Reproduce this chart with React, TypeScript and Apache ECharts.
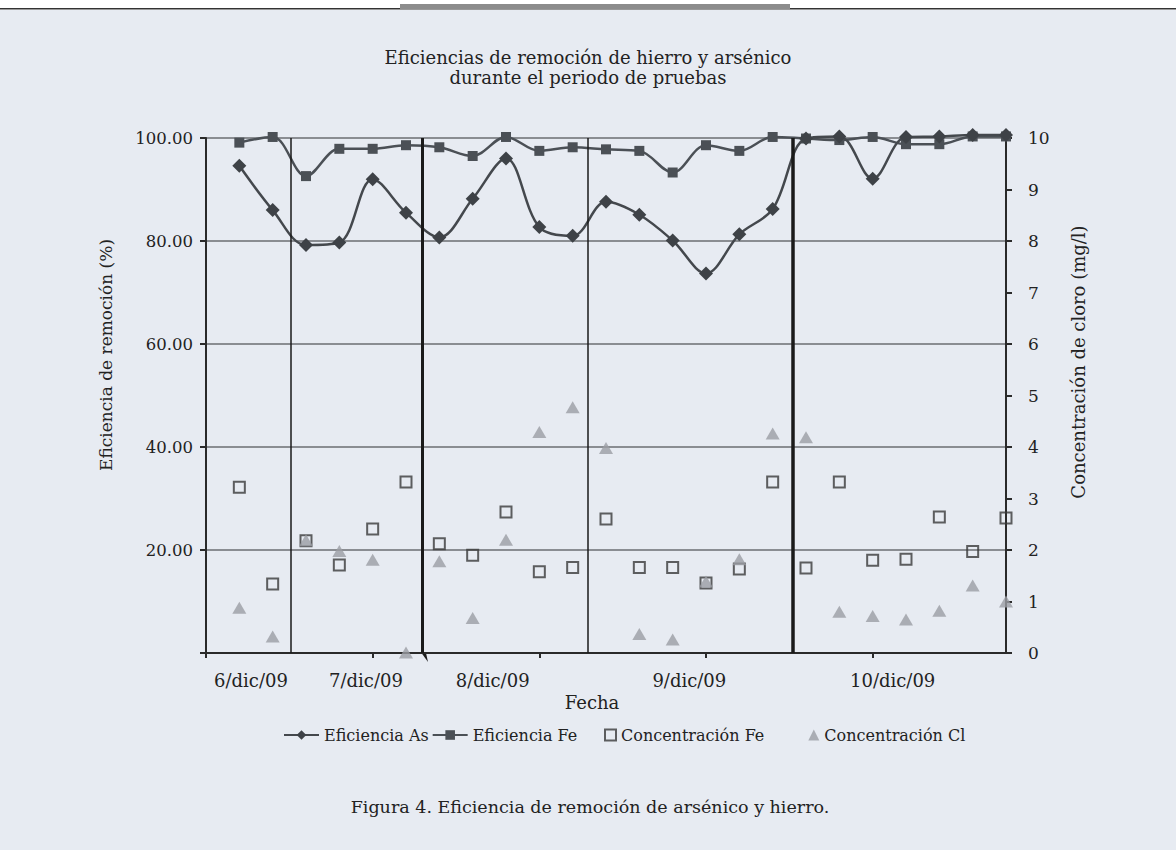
import React, { useEffect, useRef } from "react";
import * as echarts from "echarts";

const samples = [1, 2, 3, 4, 5, 6, 7, 8, 9, 10, 11, 12, 13, 14, 15, 16, 17, 18, 19, 20, 21, 22, 23, 24];
const effAs = [94.6, 86.0, 79.2, 79.7, 92.0, 85.5, 80.7, 88.2, 96.0, 82.7, 81.0, 87.6, 85.1, 80.1, 73.7, 81.3, 86.2, 99.9, 100.3, 92.1, 100.2, 100.3, 100.6, 100.6];
const effFe = [99.1, 100.2, 92.6, 97.9, 97.9, 98.6, 98.2, 96.5, 100.2, 97.5, 98.2, 97.8, 97.5, 93.3, 98.6, 97.5, 100.2, 99.9, 99.6, 100.2, 98.8, 98.8, 100.3, 100.3];
const concFe = [3.22, 1.34, 2.18, 1.71, 2.41, 3.32, 2.12, 1.9, 2.74, 1.58, 1.66, 2.6, 1.66, 1.66, 1.36, 1.63, 3.32, 1.65, 3.32, 1.8, 1.82, 2.64, 1.97, 2.62];
const concCl = [0.88, 0.32, 2.19, 1.98, 1.81, 0.01, 1.78, 0.68, 2.2, 4.29, 4.77, 3.98, 0.37, 0.26, 1.39, 1.82, 4.26, 4.19, 0.8, 0.72, 0.65, 0.82, 1.31, 1.0];

const dateLabels = ["6/dic/09", "7/dic/09", "8/dic/09", "9/dic/09", "10/dic/09"];
const dateLabelPos = [1.35, 4.8, 8.6, 14.5, 20.6];
const dayTicks = [0, 5, 10, 15, 20];
const separators = [2.55, 6.5, 11.45, 17.6];
const separatorWidths = [1.5, 3, 1.5, 3.5];

const seriesNames = ["Eficiencia As", "Eficiencia Fe", "Concentración Fe", "Concentración Cl"];

const FONT = "DejaVu Serif";
const TEXT = "#222222";
const BG = "#e7ebf2";

export default function App() {
  const ref = useRef<HTMLDivElement>(null);
  useEffect(() => {
    if (!ref.current) return;
    const chart = echarts.init(ref.current, null, { renderer: "svg" });
    const pairs = (ys: number[]) => samples.map((x, i) => [x, ys[i]]);
    chart.setOption({
      animation: false,
      backgroundColor: "#ffffff",
      textStyle: { fontFamily: FONT, color: TEXT },
      title: {
        text: "Eficiencias de remoción de hierro y arsénico\ndurante el periodo de pruebas",
        left: "center",
        top: 42,
        textStyle: { fontFamily: FONT, fontSize: 18, fontWeight: "normal", color: TEXT, lineHeight: 20 },
      },
      graphic: [
        { type: "rect", z: -10, silent: true, shape: { x: 0, y: 10, width: 1176, height: 840 }, style: { fill: BG } },
        { type: "rect", z: -9, silent: true, shape: { x: 0, y: 8, width: 1176, height: 1.5 }, style: { fill: "#333333" } },
        { type: "rect", z: -9, silent: true, shape: { x: 400, y: 4, width: 390, height: 5 }, style: { fill: "#8c8c8c" } },
        {
          type: "text", x: 106, y: 355, rotation: Math.PI / 2,
          style: { text: "Eficiencia de remoción (%)", fontFamily: FONT, fontSize: 17, fill: TEXT, textAlign: "center", textVerticalAlign: "middle" },
        },
        {
          type: "text", x: 1078, y: 362, rotation: Math.PI / 2,
          style: { text: "Concentración de cloro (mg/l)", fontFamily: FONT, fontSize: 18, fill: TEXT, textAlign: "center", textVerticalAlign: "middle" },
        },
        {
          type: "text", x: 592, y: 702,
          style: { text: "Fecha", fontFamily: FONT, fontSize: 18, fill: TEXT, textAlign: "center", textVerticalAlign: "middle" },
        },
        {
          type: "text", x: 590, y: 807,
          style: { text: "Figura 4. Eficiencia de remoción de arsénico y hierro.", fontFamily: FONT, fontSize: 17.5, fill: TEXT, textAlign: "center", textVerticalAlign: "middle" },
        },
        {
          type: "polygon", silent: true,
          shape: { points: [[421.5, 653], [426, 653], [428, 662]] },
          style: { fill: "#1a1a1a" },
        },
      ],
      legend: [
        {
          left: 283,
          top: 727,
          padding: 0,
          itemWidth: 35,
          itemHeight: 12,
          itemGap: 3,
          textStyle: { fontFamily: FONT, fontSize: 16, color: TEXT },
          data: [seriesNames[0], seriesNames[1]],
        },
        {
          left: 604,
          top: 727,
          padding: 0,
          itemWidth: 11,
          itemHeight: 11,
          itemGap: 44,
          textStyle: { fontFamily: FONT, fontSize: 16, color: TEXT },
          data: [seriesNames[2], seriesNames[3]],
        },
      ],
      grid: { left: 206, right: 170, top: 138, bottom: 197, containLabel: false },
      xAxis: {
        type: "value",
        min: 0,
        max: 24,
        axisLine: { show: true, lineStyle: { color: "#2a2a2a", width: 2 } },
        axisTick: { show: true, customValues: dayTicks, length: 5, lineStyle: { color: "#2a2a2a", width: 2 } },
        axisLabel: {
          customValues: dateLabelPos,
          margin: 18,
          fontFamily: FONT,
          fontSize: 18,
          color: TEXT,
          formatter: (v: number) => {
            const i = dateLabelPos.findIndex((p) => Math.abs(p - v) < 1e-6);
            return i >= 0 ? dateLabels[i] : "";
          },
        },
        splitLine: { show: false },
      },
      yAxis: [
        {
          type: "value",
          min: 0,
          max: 100,
          interval: 20,
          position: "left",
          axisLine: { show: true, lineStyle: { color: "#2a2a2a", width: 2 } },
          axisTick: { show: true, length: 6, lineStyle: { color: "#2a2a2a", width: 2 } },
          axisLabel: {
            margin: 13,
            fontFamily: FONT,
            fontSize: 16.5,
            color: TEXT,
            formatter: (v: number) => (v === 0 ? "" : v.toFixed(2)),
          },
          splitLine: { show: true, lineStyle: { color: "#8a8d92", width: 2 } },
        },
        {
          type: "value",
          min: 0,
          max: 10,
          interval: 1,
          position: "right",
          axisLine: { show: true, lineStyle: { color: "#2a2a2a", width: 2 } },
          axisTick: { show: true, length: 6, lineStyle: { color: "#2a2a2a", width: 2 } },
          axisLabel: { margin: 22, fontFamily: FONT, fontSize: 17, color: TEXT, align: "left" },
          splitLine: { show: false },
        },
      ],
      series: [
        {
          name: seriesNames[0],
          type: "line",
          yAxisIndex: 0,
          data: pairs(effAs),
          smooth: 0.35,
          clip: false,
          symbol: "diamond",
          symbolSize: 14,
          lineStyle: { color: "#44484d", width: 2.5 },
          itemStyle: { color: "#3e4247" },
          z: 4,
          markLine: {
            silent: true,
            symbol: "none",
            label: { show: false },
            data: separators.map((x, i) => ({ xAxis: x, lineStyle: { color: "#1a1a1a", width: separatorWidths[i], type: "solid" } })),
          },
        },
        {
          name: seriesNames[1],
          type: "line",
          yAxisIndex: 0,
          data: pairs(effFe),
          smooth: 0.35,
          clip: false,
          symbol: "rect",
          symbolSize: 10,
          lineStyle: { color: "#4b5056", width: 2.5 },
          itemStyle: { color: "#4b5056" },
          z: 3,
        },
        {
          name: seriesNames[2],
          type: "scatter",
          yAxisIndex: 1,
          data: pairs(concFe),
          symbol: "rect",
          symbolSize: 11,
          itemStyle: { color: "rgba(0,0,0,0)", borderColor: "#3a3a3a", borderWidth: 2 },
          z: 5,
        },
        {
          name: seriesNames[3],
          type: "scatter",
          yAxisIndex: 1,
          data: pairs(concCl),
          symbol: "triangle",
          symbolSize: [14, 12],
          itemStyle: { color: "#9b9ea4" },
          z: 6,
        },
      ],
    });
    return () => chart.dispose();
  }, []);
  return <div ref={ref} style={{ position: "fixed", left: 0, top: 0, width: 1176, height: 850 }} />;
}
